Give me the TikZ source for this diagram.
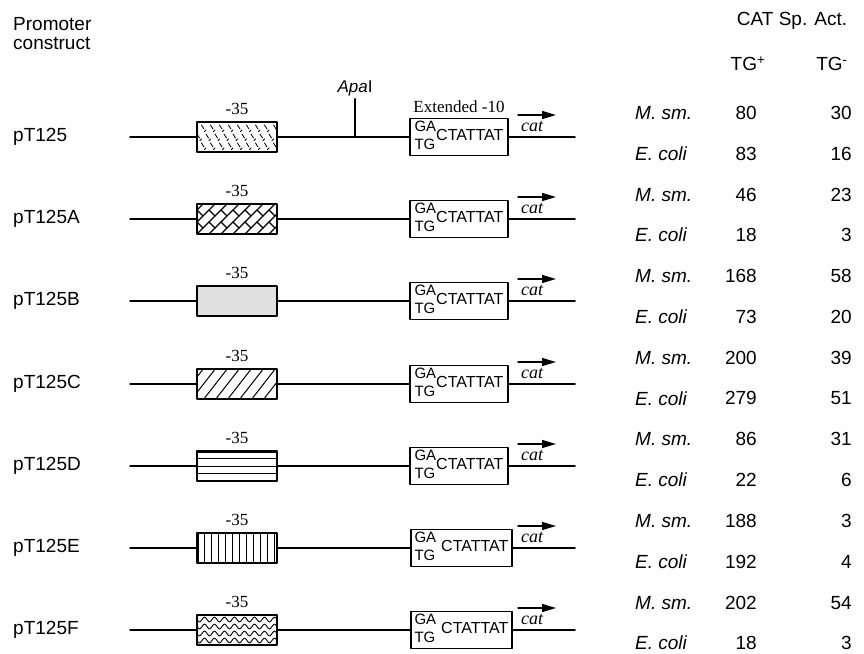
\documentclass[tikz,border=0pt]{standalone}
\usepackage{fontspec}
\setmainfont{Liberation Serif}
\setsansfont{Liberation Sans}
\usetikzlibrary{arrows.meta,positioning}

\begin{document}
\begin{tikzpicture}[line cap=round,line join=round,>={Triangle[length=14pt,width=8pt]},x=1pt,y=-1pt,
    sanstext/.style={inner sep=0pt,font=\fontsize{19}{19}\selectfont\sffamily},
    seriftext/.style={inner sep=0pt,font=\fontsize{17}{20}\selectfont\rmfamily},
    dnaline/.style={line width=1.5pt},
    boxthirtyfive/.style={draw,line width=1.6pt,minimum width=80pt,minimum height=30pt,inner sep=0pt},
    boxten/.style={draw,line width=1.3pt,minimum height=37pt,inner sep=0pt},
    % fills of the -35 boxes
    hatchdash/.style={path picture={\begin{scope}[shift={(path picture bounding box.center)},line width=0.8pt]
        \foreach \py [count=\r] in {-9,0,9} {\pgfmathsetmacro\off{mod(\r,2)*4.5}
          \foreach \px in {-49,-40,...,44} {\draw (\px+\off,\py-3) -- ++(2.5,4); \draw (\px+\off+4.5,\py+2) -- ++(-1.5,1.5);}}
        \end{scope}}},
    hatchbrick/.style={path picture={\begin{scope}[shift={(path picture bounding box.center)},line width=1.1pt]
        \foreach \k in {-64,-52,...,44} {\draw (\k,15) -- ++(30,-30);
          \foreach \t in {-12,0,12,24,36} \draw (\k+\t,15-\t) -- ++(6,6);}
        \end{scope}}},
    hatchdots/.style={fill=black!12},
    hatchdiag/.style={path picture={\begin{scope}[shift={(path picture bounding box.center)},line width=1pt]
        \foreach \k in {-70,-58,...,50} \draw (\k,16) -- ++(25,-32);
        \end{scope}}},
    hatchhoriz/.style={path picture={\begin{scope}[shift={(path picture bounding box.center)},line width=1pt]
        \foreach \py in {-7.5,0,7.5} \draw (-45,\py) -- (45,\py);
        \draw[line width=3pt] (-45,-15) -- (45,-15);
        \end{scope}}},
    hatchvert/.style={path picture={\begin{scope}[shift={(path picture bounding box.center)},line width=1pt]
        \foreach \px in {-40,-33,...,40} \draw (\px,-16) -- (\px,16);
        \draw[line width=3pt] (-40,-16) -- (-40,16);
        \end{scope}}},
    hatchwave/.style={path picture={\begin{scope}[shift={(path picture bounding box.center)},line width=0.9pt]
        \foreach \py in {-10.5,-3.5,3.5,10.5} \draw plot[domain=-42:42,samples=80,smooth] (\x,{\py+2.4*sin(36*\x)});
        \end{scope}}}]

    \useasboundingbox (0,0) rectangle (864,653);

    % headings
    \node[sanstext,anchor=north west,align=left] (head) at (13,17) {Promoter\\construct};
    \node[sanstext] (cattitle) at (792,21) {CAT Sp. Act.};
    \node[sanstext] (tgplus) at (748,64) {TG\textsuperscript{+}};
    \node[sanstext] (tgminus) at (832,64) {TG\textsuperscript{-}};

    % constructs
    \foreach \name/\yy/\fillstyle/\boxw/\gap [count=\i from 0] in
      {pT125/137/hatchdash/98/0, pT125A/219/hatchbrick/98/0, pT125B/301/hatchdots/98/0,
       pT125C/384/hatchdiag/98/0, pT125D/466/hatchhoriz/98/0, pT125E/548/hatchvert/101/5,
       pT125F/630/hatchwave/101/5}
    {
      \node[sanstext,anchor=west] (lbl-\i) at (13,\yy) {\name};
      \coordinate (start-\i) at (130,\yy);
      \coordinate (end-\i) at (575,\yy);
      \node[boxthirtyfive,\fillstyle] (box35-\i) at (237,\yy) {};
      \node[seriftext,above=6pt of box35-\i] (m35-\i) {-35};
      \node[boxten,minimum width=\boxw pt] (box10-\i) at (459+\gap/2,\yy)
        {{\fontsize{15}{18}\selectfont\sffamily\begin{tabular}{@{}l@{}}GA\\TG\end{tabular}}\hspace{\gap pt}{\fontsize{16}{18}\selectfont\sffamily CTATTAT}};
      \draw[dnaline] (start-\i) -- (box35-\i.west);
      \draw[dnaline] (box35-\i.east) -- (box10-\i.west);
      \draw[dnaline] (box10-\i.east) -- (end-\i);
      \node[seriftext,font=\fontsize{18}{20}\selectfont\itshape] (catlbl-\i) at (532,\yy-10) {cat};
      \coordinate (arra-\i) at (518,\yy-22);
      \coordinate (arrb-\i) at (556,\yy-22);
      \draw[->,line width=1.4pt] (arra-\i) -- (arrb-\i);
    }
    \node[seriftext,above=5pt of box10-0] (ext) {Extended -10};
    \coordinate (apabase) at (355,137);
    \node[sanstext,font=\fontsize{17}{20}\selectfont\sffamily] (apa) at (355,88) {\textit{Apa}I};
    \draw[dnaline,shorten >=3pt] (apabase) -- (apa.south);

    % CAT activities
    \foreach \mplus/\mminus/\eplus/\eminus [count=\i from 0] in
      {80/30/83/16, 46/23/18/3, 168/58/73/20, 200/39/279/51, 86/31/22/6, 188/3/192/4, 202/54/18/3}
    {
      \pgfmathsetmacro\ya{113+81.6*\i}
      \pgfmathsetmacro\yb{153.5+81.6*\i}
      \node[sanstext,anchor=west] (msm-\i) at (635,\ya) {\textit{M. sm.}};
      \node[sanstext,anchor=east] (msmp-\i) at (757,\ya) {\mplus};
      \node[sanstext,anchor=east] (msmm-\i) at (852,\ya) {\mminus};
      \node[sanstext,anchor=west] (eco-\i) at (635,\yb) {\textit{E. coli}};
      \node[sanstext,anchor=east] (ecop-\i) at (757,\yb) {\eplus};
      \node[sanstext,anchor=east] (ecom-\i) at (852,\yb) {\eminus};
    }
\end{tikzpicture}
\end{document}
